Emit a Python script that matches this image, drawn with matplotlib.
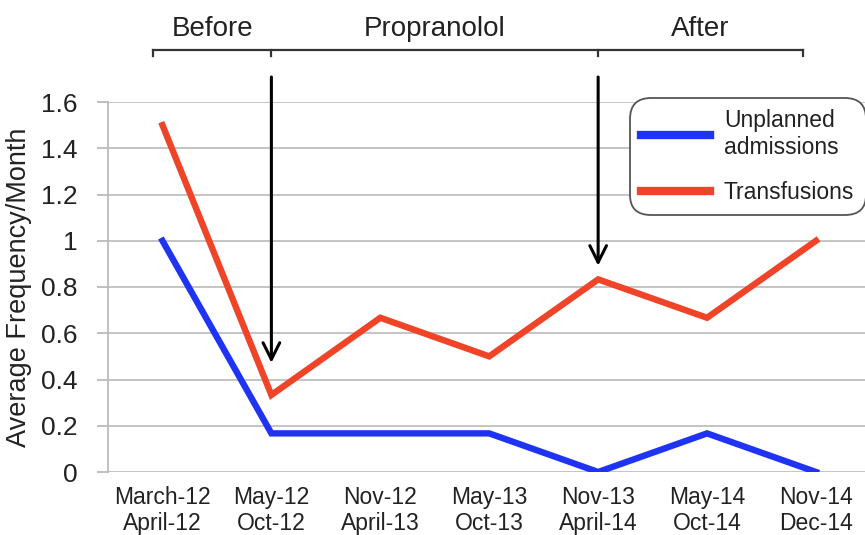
import matplotlib
matplotlib.use("Agg")
import matplotlib.pyplot as plt

plt.rcParams['font.family'] = ['Liberation Sans', 'DejaVu Sans']

categories = ["March-12\nApril-12", "May-12\nOct-12", "Nov-12\nApril-13", "May-13\nOct-13",
              "Nov-13\nApril-14", "May-14\nOct-14", "Nov-14\nDec-14"]
unplanned = [1.0, 0.167, 0.167, 0.167, 0.0, 0.167, 0.0]
transfusions = [1.5, 0.333, 0.667, 0.5, 0.833, 0.667, 1.0]
yticks = [0, 0.2, 0.4, 0.6, 0.8, 1.0, 1.2, 1.4, 1.6]
ytick_labels = ["0", "0.2", "0.4", "0.6", "0.8", "1", "1.2", "1.4", "1.6"]
phases = ["Before", "Propranolol", "After"]

W, H = 865, 535
fig = plt.figure(figsize=(W / 100, H / 100), dpi=100)
l, r, b, t = 108, 865, 472, 102
ax = fig.add_axes([l / W, (H - b) / H, (r - l) / W, (b - t) / H])

x = list(range(len(categories)))
blue = '#1f33f5'
red = '#ef4427'
ax.plot(x, unplanned, color=blue, lw=4.6, label="Unplanned\nadmissions", solid_joinstyle='miter', zorder=3)
ax.plot(x, transfusions, color=red, lw=4.6, label="Transfusions", solid_joinstyle='miter', zorder=3)

ax.set_xlim(-0.5, 6.45)
ax.set_ylim(0, 1.6)
ax.set_yticks(yticks)
ax.set_yticklabels(ytick_labels, fontsize=19, color='#222222')
ax.set_xticks(x)
ax.set_xticklabels(categories, fontsize=16.5, color='#222222', linespacing=1.15)
ax.tick_params(axis='x', length=0, pad=10)
ax.tick_params(axis='y', length=8, color='#bbbbbb', width=1.3, pad=14)
ax.grid(axis='y', color='#c4c4c4', lw=1.4)
ax.set_axisbelow(True)
for s in ['top', 'right', 'bottom']:
    ax.spines[s].set_visible(False)
ax.spines['left'].set_color('#bbbbbb')
ax.spines['left'].set_linewidth(1.3)
ax.set_ylabel("Average Frequency/Month", fontsize=19.5, color='#222222', labelpad=6)

# arrows
arrow_kw = dict(arrowstyle='->', lw=2.2, color='black', mutation_scale=30)
ax.annotate("", xy=(1, 0.46), xytext=(1, 1.72), arrowprops=arrow_kw, annotation_clip=False)
ax.annotate("", xy=(4, 0.88), xytext=(4, 1.72), arrowprops=arrow_kw, annotation_clip=False)

# brackets
by, bt = 1.825, 1.80
bc = '#333333'
xs = [-0.085, 1.0, 4.0, 5.88]
ax.plot([xs[0], xs[-1]], [by, by], color=bc, lw=1.6, clip_on=False)
for xv in xs:
    ax.plot([xv, xv], [by, bt], color=bc, lw=1.6, clip_on=False)
for i, name in enumerate(phases):
    ax.text((xs[i] + xs[i + 1]) / 2, 1.915, name, ha='center', va='center', fontsize=20,
            color='#222222', clip_on=False)

leg = ax.legend(loc='upper left', bbox_to_anchor=(630 / W, (H - 98) / H), bbox_transform=fig.transFigure,
                fontsize=16.5, frameon=True, fancybox=True, edgecolor='#555555', framealpha=1,
                handlelength=3.0, handletextpad=0.6, labelspacing=0.95, borderpad=0.5, borderaxespad=0)
leg.get_frame().set_linewidth(1.3)
leg.get_frame().set_boxstyle("round,pad=0,rounding_size=0.9")
for line in leg.get_lines():
    line.set_linewidth(6)
for txt in leg.get_texts():
    txt.set_color('#222222')

fig.savefig("out.png", dpi=100)
